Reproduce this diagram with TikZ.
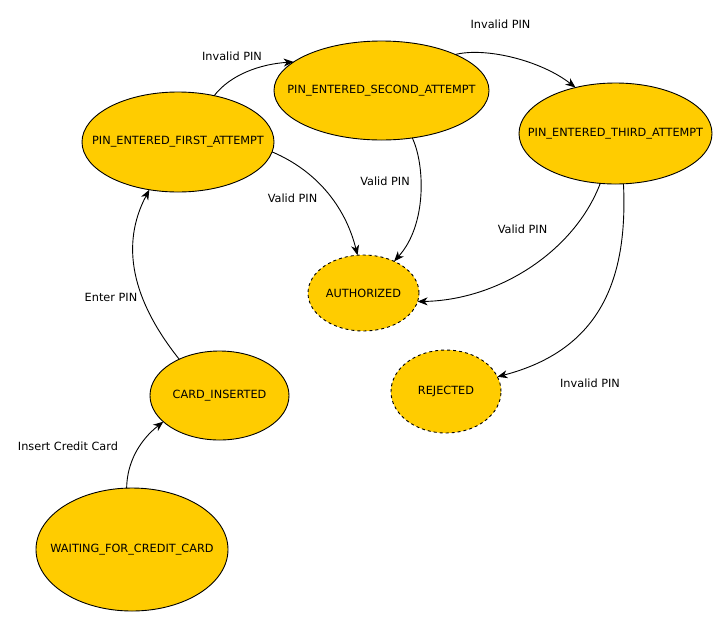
\documentclass[tikz,border=0pt]{standalone}
\usepackage{fontspec}
\setmainfont{DejaVu Sans}
\usetikzlibrary{shapes.geometric,arrows.meta}
\definecolor{stateyellow}{RGB}{255,204,0}
\tikzset{
  statebox/.style={ellipse, draw=black, line width=0.9pt, fill=stateyellow, inner sep=0pt, outer sep=0pt, font=\fontsize{11.3}{13}\selectfont},
  finalbox/.style={statebox, dash pattern=on 3pt off 3pt},
  trans/.style={draw=black, line width=0.9pt, -{Stealth[length=10pt,width=8pt,inset=3pt]}},
  lbl/.style={inner sep=0pt, font=\fontsize{11.3}{13}\selectfont}
}
\begin{document}
\begin{tikzpicture}[x=1pt,y=-1pt]
\useasboundingbox (0,0) rectangle (727,627);
% states
\node[statebox, minimum width=192, minimum height=100] (first) at (178,142) {\makebox[0pt]{PIN\_ENTERED\_FIRST\_ATTEMPT}};
\node[statebox, minimum width=215, minimum height=99] (second) at (381.5,90.5) {\makebox[0pt]{PIN\_ENTERED\_SECOND\_ATTEMPT}};
\node[statebox, minimum width=193, minimum height=101] (third) at (615.5,133.5) {\makebox[0pt]{PIN\_ENTERED\_THIRD\_ATTEMPT}};
\node[finalbox, minimum width=111, minimum height=76] (auth) at (363.5,293) {\makebox[0pt]{AUTHORIZED}};
\node[finalbox, minimum width=110, minimum height=83] (rej) at (446,391.5) {\makebox[0pt]{REJECTED}};
\node[statebox, minimum width=139, minimum height=89] (card) at (219.5,395.5) {\makebox[0pt]{CARD\_INSERTED}};
\node[statebox, minimum width=192, minimum height=123] (wait) at (132,549.5) {\makebox[0pt]{WAITING\_FOR\_CREDIT\_CARD}};
% transitions
\draw[trans] (wait.95.6) .. controls (127,462) and (140,440) .. (card.205.9);
\draw[trans] (card.138.7) .. controls (132,300) and (120,245) .. (first.239);
\draw[trans] (first.52.5) .. controls (230,75) and (260,64) .. (second.162.3);
\draw[trans] (second.26.1) .. controls (485,47) and (540,60) .. (third.131);
\draw[trans] (first.-6) .. controls (315,170) and (345,205) .. (auth.99.2);
\draw[trans] (second.-57.5) .. controls (425,165) and (427,225) .. (auth.46.3);
\draw[trans] (third.-107.4) .. controls (575,250) and (500,300) .. (auth.-9);
\draw[trans] (third.-81.7) .. controls (628,280) and (600,350) .. (rej.16);
% labels
\node[lbl] (l1) at (68,446) {Insert Credit Card};
\node[lbl] (l2) at (111,297) {Enter PIN};
\node[lbl] (l3) at (232,56) {Invalid PIN};
\node[lbl] (l4) at (500.5,24) {Invalid PIN};
\node[lbl] (l5) at (292.5,198) {Valid PIN};
\node[lbl] (l6) at (385,181) {Valid PIN};
\node[lbl] (l7) at (522.5,229) {Valid PIN};
\node[lbl] (l8) at (590,383) {Invalid PIN};
\end{tikzpicture}
\end{document}
